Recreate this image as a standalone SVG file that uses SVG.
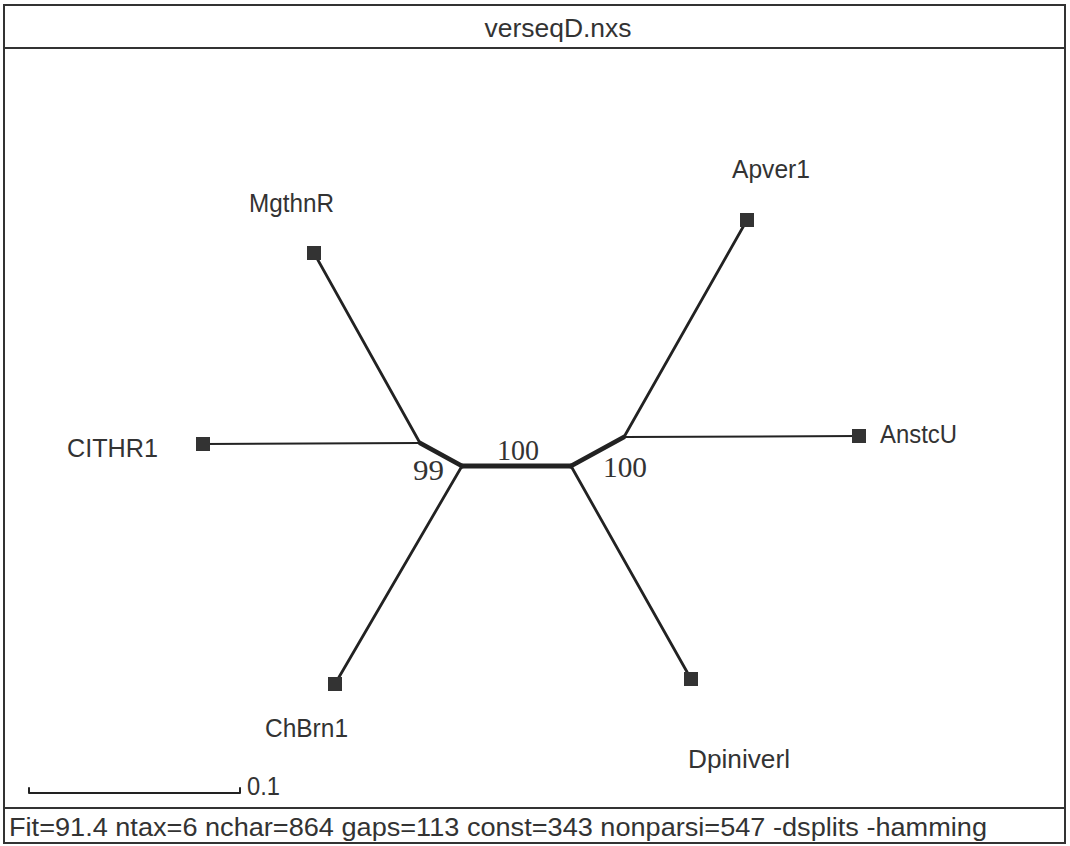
<svg xmlns="http://www.w3.org/2000/svg" width="1070" height="846" viewBox="0 0 1070 846">
<style>
.frame{fill:none;stroke:#333;stroke-width:2}
.sep{stroke:#333;stroke-width:2}
.lbl{font-family:"Liberation Sans",Arial,sans-serif;font-size:25px;fill:#333}
.foot{font-size:26px}
.sup{font-family:"Liberation Serif","Times New Roman",serif;font-size:29px;fill:#333}
.edge{fill:none;stroke:#222;stroke-linecap:round;stroke-linejoin:round}
.thin{stroke-width:2}
.med{stroke-width:2.8}
.thick{stroke-width:4.8}
.tax{fill:#333}
</style>
<rect width="1070" height="846" fill="#fff"/>
<rect class="frame" x="4" y="5" width="1061" height="838"/>
<line class="sep" x1="4" y1="48" x2="1065" y2="48"/>
<line class="sep" x1="4" y1="808" x2="1065" y2="808"/>
<text class="lbl" x="558" y="37" text-anchor="middle" textLength="147" lengthAdjust="spacingAndGlyphs">verseqD.nxs</text>
<text class="lbl foot" x="9" y="836" textLength="978" lengthAdjust="spacingAndGlyphs">Fit=91.4 ntax=6 nchar=864 gaps=113 const=343 nonparsi=547 -dsplits -hamming</text>
<g id="scalebar">
<path class="edge thin" d="M29,788 V793 H240 V788"/>
<text class="lbl" x="247" y="795" textLength="33" lengthAdjust="spacingAndGlyphs">0.1</text>
</g>
<g id="connectors">
<path class="edge thin" d="M203,444 L420,443"/>
<path class="edge med" d="M314,253 L420,443"/>
<path class="edge thick" d="M420,443 L462,466"/>
<path class="edge med" d="M462,466 L335,684"/>
<path class="edge thick" d="M462,466 L571,466"/>
<path class="edge med" d="M571,466 L691,679"/>
<path class="edge thick" d="M571,466 L624,437"/>
<path class="edge med" d="M624,437 L747,220"/>
<path class="edge thin" d="M624,437 L859,436"/>
</g>
<g id="support">
<text class="sup" x="413" y="480" textLength="31" lengthAdjust="spacingAndGlyphs">99</text>
<text class="sup" x="497" y="460" textLength="42" lengthAdjust="spacingAndGlyphs">100</text>
<text class="sup" x="603" y="477" textLength="44" lengthAdjust="spacingAndGlyphs">100</text>
</g>
<g id="MgthnR">
<rect class="tax" x="307" y="246" width="14" height="14"/>
<text class="lbl" x="249" y="212" textLength="85" lengthAdjust="spacingAndGlyphs">MgthnR</text>
</g>
<g id="Apver1">
<rect class="tax" x="740" y="213" width="14" height="14"/>
<text class="lbl" x="732" y="178" textLength="78" lengthAdjust="spacingAndGlyphs">Apver1</text>
</g>
<g id="CITHR1">
<rect class="tax" x="196" y="437" width="14" height="14"/>
<text class="lbl" x="67" y="457" textLength="91" lengthAdjust="spacingAndGlyphs">CITHR1</text>
</g>
<g id="AnstcU">
<rect class="tax" x="852" y="429" width="14" height="14"/>
<text class="lbl" x="880" y="443" textLength="77" lengthAdjust="spacingAndGlyphs">AnstcU</text>
</g>
<g id="ChBrn1">
<rect class="tax" x="328" y="677" width="14" height="14"/>
<text class="lbl" x="265" y="737" textLength="83" lengthAdjust="spacingAndGlyphs">ChBrn1</text>
</g>
<g id="Dpiniverl">
<rect class="tax" x="684" y="672" width="14" height="14"/>
<text class="lbl" x="688" y="768" textLength="102" lengthAdjust="spacingAndGlyphs">Dpiniverl</text>
</g>
</svg>
